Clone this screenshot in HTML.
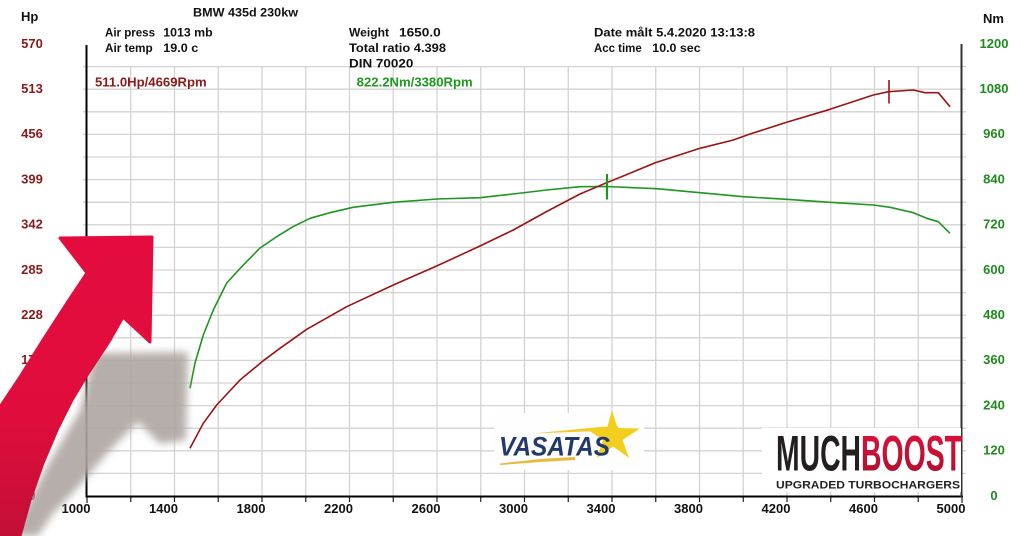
<!DOCTYPE html>
<html>
<head>
<meta charset="utf-8">
<style>
html,body{margin:0;padding:0;background:#fff;}
body{width:1024px;height:536px;overflow:hidden;}
svg{display:block;}
text{font-family:"Liberation Sans",Arial,sans-serif;font-weight:bold;}
</style>
</head>
<body>
<svg width="1024" height="536" viewBox="0 0 1024 536" xmlns="http://www.w3.org/2000/svg">
<defs>
  <filter id="blur" x="-30%" y="-30%" width="160%" height="160%">
    <feGaussianBlur stdDeviation="4"/>
  </filter>
  <linearGradient id="redg" x1="0" y1="0" x2="0" y2="1">
    <stop offset="0" stop-color="#e40c3e"/>
    <stop offset="0.6" stop-color="#e00d3c"/>
    <stop offset="1" stop-color="#c20f36"/>
  </linearGradient>
  <linearGradient id="boostg" x1="0" y1="0" x2="0" y2="1">
    <stop offset="0" stop-color="#e3103c"/>
    <stop offset="1" stop-color="#a8102c"/>
  </linearGradient>
</defs>
<rect width="1024" height="536" fill="#fff"/>

<!-- grid -->
<g stroke="#d3d3d3" stroke-width="1.3" fill="none">
  <path d="M83 473.4H966 M83 450.8H966 M83 428.2H966 M83 405.6H966 M83 383H966 M83 360.4H966 M83 337.8H966 M83 315.2H966 M83 292.6H966 M83 270H966 M83 247.4H966 M83 224.8H966 M83 202.2H966 M83 179.6H966 M83 157H966 M83 134.4H966 M83 111.8H966 M83 89.2H966 M83 66.6H966"/>
  <path d="M130.75 67V496 M174.5 67V496 M218.25 67V496 M262 67V496 M305.75 67V496 M349.5 67V496 M393.25 67V496 M437 67V496 M480.75 67V496 M524.5 67V496 M568.25 67V496 M612 67V496 M655.75 67V496 M699.5 67V496 M743.25 67V496 M787 67V496 M830.75 67V496 M874.5 67V496 M918.25 67V496"/>
</g>
<!-- bottom ticks -->
<g stroke="#222" stroke-width="1.2">
  <path d="M87 496V503 M130.75 496V502 M174.5 496V502 M218.25 496V502 M262 496V502 M305.75 496V502 M349.5 496V502 M393.25 496V502 M437 496V502 M480.75 496V502 M524.5 496V502 M568.25 496V502 M612 496V502 M655.75 496V502 M699.5 496V502 M743.25 496V502 M787 496V502 M830.75 496V502 M874.5 496V502 M918.25 496V502 M962 496V503"/>
</g>
<!-- axes -->
<path d="M86.5 45V497.5" stroke="#000" stroke-width="2"/>
<path d="M86 496.5H963" stroke="#000" stroke-width="2"/>
<path d="M961.5 44V497.5" stroke="#333" stroke-width="2"/>

<!-- header -->
<g fill="#111">
  <text x="21" y="21" font-size="13">Hp</text>
  <text x="983" y="23" font-size="13">Nm</text>
  <text x="193" y="16.5" font-size="12" textLength="105" lengthAdjust="spacingAndGlyphs">BMW 435d 230kw</text>
  <text x="105" y="36.5" font-size="11.5" textLength="50" lengthAdjust="spacingAndGlyphs">Air press</text>
  <text x="163.3" y="36.5" font-size="11.5" textLength="49.4" lengthAdjust="spacingAndGlyphs">1013 mb</text>
  <text x="105" y="52" font-size="11.5" textLength="47.7" lengthAdjust="spacingAndGlyphs">Air temp</text>
  <text x="163.3" y="52" font-size="11.5" textLength="35" lengthAdjust="spacingAndGlyphs">19.0 c</text>
  <text x="349" y="36.5" font-size="11.5" textLength="40" lengthAdjust="spacingAndGlyphs">Weight</text>
  <text x="399" y="36.5" font-size="11.5" textLength="41.7" lengthAdjust="spacingAndGlyphs">1650.0</text>
  <text x="349" y="52" font-size="11.5" textLength="97" lengthAdjust="spacingAndGlyphs">Total ratio 4.398</text>
  <text x="349" y="67.5" font-size="11.5" textLength="64.3" lengthAdjust="spacingAndGlyphs">DIN 70020</text>
  <text x="594" y="36.5" font-size="11.5" textLength="161" lengthAdjust="spacingAndGlyphs">Date målt 5.4.2020 13:13:8</text>
  <text x="594" y="52" font-size="11.5" textLength="47.7" lengthAdjust="spacingAndGlyphs">Acc time</text>
  <text x="652.3" y="52" font-size="11.5" textLength="48.3" lengthAdjust="spacingAndGlyphs">10.0 sec</text>
</g>
<text x="95" y="86.5" font-size="12.5" fill="#8b1a1a" textLength="111.7" lengthAdjust="spacingAndGlyphs">511.0Hp/4669Rpm</text>
<text x="356.7" y="86.5" font-size="12.5" fill="#1f9a1f" textLength="116" lengthAdjust="spacingAndGlyphs">822.2Nm/3380Rpm</text>

<!-- left labels -->
<g fill="#8b1a1a" font-size="13" text-anchor="middle">
  <text x="32" y="47.8">570</text>
  <text x="32" y="93">513</text>
  <text x="32" y="138.2">456</text>
  <text x="32" y="183.4">399</text>
  <text x="32" y="228.6">342</text>
  <text x="32" y="273.8">285</text>
  <text x="32" y="319">228</text>
  <text x="32" y="364.2">171</text>
  <text x="32" y="409.4">114</text>
  <text x="32" y="454.6">57</text>
  <text x="32" y="499.8">0</text>
</g>
<!-- right labels -->
<g fill="#1f8c1f" font-size="13" text-anchor="middle">
  <text x="994" y="47.8">1200</text>
  <text x="994" y="93">1080</text>
  <text x="994" y="138.2">960</text>
  <text x="994" y="183.4">840</text>
  <text x="994" y="228.6">720</text>
  <text x="994" y="273.8">600</text>
  <text x="994" y="319">480</text>
  <text x="994" y="364.2">360</text>
  <text x="994" y="409.4">240</text>
  <text x="994" y="454.6">120</text>
  <text x="994" y="499.8">0</text>
</g>
<!-- x labels -->
<g fill="#111" font-size="13" text-anchor="middle">
  <text x="76" y="513">1000</text>
  <text x="163.5" y="513">1400</text>
  <text x="251" y="513">1800</text>
  <text x="338.5" y="513">2200</text>
  <text x="426" y="513">2600</text>
  <text x="513.5" y="513">3000</text>
  <text x="601" y="513">3400</text>
  <text x="688.5" y="513">3800</text>
  <text x="776" y="513">4200</text>
  <text x="863.5" y="513">4600</text>
  <text x="951" y="513">5000</text>
</g>

<!-- Vasatas logo -->
<rect x="494" y="413" width="150" height="57" fill="#fefefe"/>
<polygon points="533,433.5 600,427 618,426 618,430 600,431" fill="#f0cd2a"/>
<polygon points="500,463.5 540,459 575,457 575,460 540,462 500,465" fill="#e9b93a"/>
<polygon fill="#f2cf1e" points="612,410 617.5,428 640,428.5 622.5,440 629,458 613,446.5 597,458 603,440 586,428.5 607,428"/>
<text x="499" y="455.5" font-size="27" font-style="italic" fill="#22396b" textLength="111" lengthAdjust="spacingAndGlyphs">VASATAS</text>

<!-- Muchboost logo -->
<rect x="762" y="428" width="199" height="64" fill="#fff"/>
<text x="776" y="470.5" font-size="50" fill="#231f20" textLength="85" lengthAdjust="spacingAndGlyphs">MUCH</text>
<text x="861" y="470.5" font-size="50" fill="url(#boostg)" textLength="101" lengthAdjust="spacingAndGlyphs">BOOST</text>
<text x="776" y="488.5" font-size="11" fill="#222" textLength="184" lengthAdjust="spacingAndGlyphs">UPGRADED TURBOCHARGERS</text>

<!-- curves -->
<polyline fill="none" stroke="#1f961f" stroke-width="1.6" stroke-linejoin="round" points="190,388.3 195,363 203.3,335 213.3,310 226.7,283 241.7,266.7 260,248 276.7,236.7 293,226.7 310,218.3 330,212.7 353,207.3 393,202.3 436.7,199 480,197.7 513,194 546.7,190 580,186.7 606.7,186.5 656.7,188.7 700,192.7 743.3,196.7 786.7,199.3 830,202.3 873.3,205 890,207.3 913.3,212.7 926.7,218.3 938.3,221.7 950,233.3"/>
<polyline fill="none" stroke="#9b1414" stroke-width="1.6" stroke-linejoin="round" points="190,448.3 203.3,423.3 216.7,405 240,380 263.3,360.7 280,348.3 306.7,329.3 346.7,306.7 393.3,285 436.7,266 480,246 513.3,230 546.7,211.5 580,194 606.7,182.7 623.3,176 655.3,162.7 700,148.3 733.3,140 750,134 786.7,122.3 830,109.3 873.3,95 888.3,91.7 913.3,90 925,92.7 938.3,92.7 950,106.7"/>
<path d="M889 80V103.5" stroke="#9b1414" stroke-width="1.6"/>
<path d="M607 174V199.5" stroke="#1f961f" stroke-width="2.2"/>

<!-- shadow arrow -->
<path filter="url(#blur)" fill="#aea6a1" opacity="0.9" d="M95,353 L188,352 L186,440 L160,444 L138,422 L110,450 L80,485 L52,515 L38,536 L12,536 L45,470 L80,410 Z"/>
<!-- red arrow -->
<path fill="url(#redg)" stroke="url(#redg)" stroke-width="3" stroke-linejoin="round" d="M60,238 L152,237 L150,342 L123,317 L110,340 L87,375 L72,400 L57,430 L43,463 L30,500 L20,536 L0,536 L0,407 L20,377 L43,340 L67,303 L87,273 Z"/>
</svg>
</body>
</html>
